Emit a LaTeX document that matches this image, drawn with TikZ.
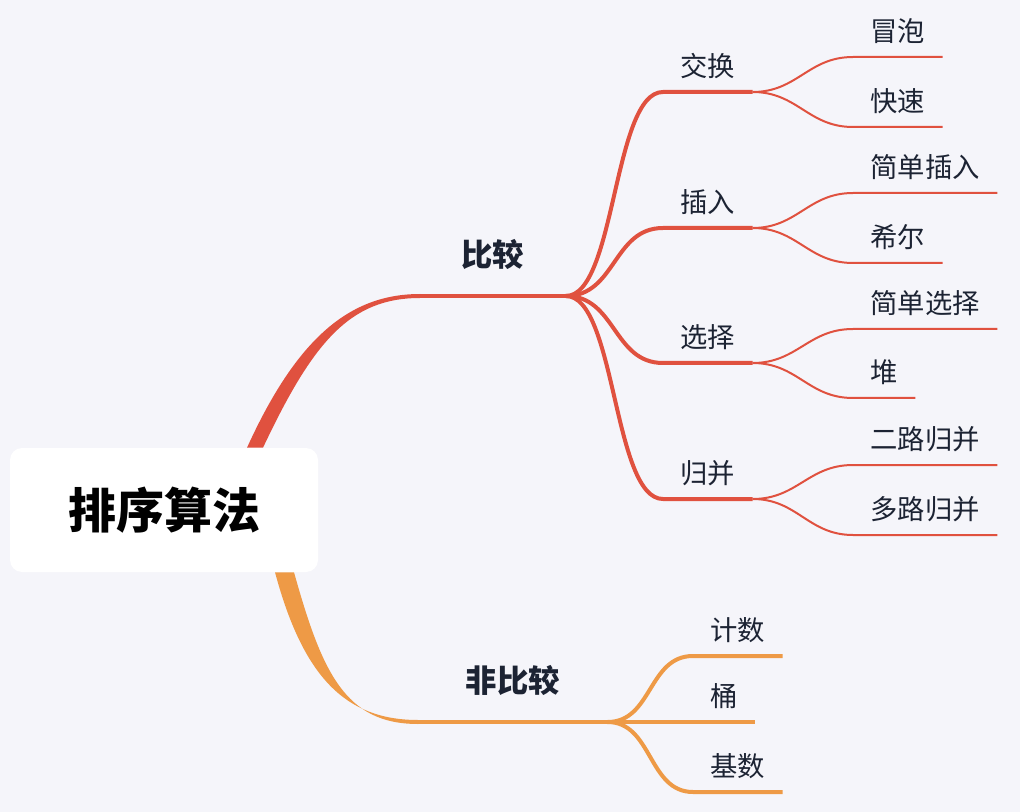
\documentclass[tikz,border=0pt]{standalone}
\usepackage{fontspec}
\setmainfont{Noto Sans CJK SC}
\usetikzlibrary{calc}
\definecolor{Paper}{HTML}{F5F5FA}
\definecolor{Red}{HTML}{E0513F}
\definecolor{Orange}{HTML}{EE9A46}
\definecolor{Ink}{HTML}{1C2333}
\tikzset{
  rootbox/.style={rounded corners=9pt, fill=white, minimum width=231pt, minimum height=93pt, font=\fontsize{36}{40}\selectfont\bfseries, text=black},
  topic/.style={inner xsep=31pt, inner ysep=20.5pt, text height=.85em, text depth=.15em, font=\fontsize{23.5}{27}\selectfont\bfseries, text=Ink},
  leaf/.style={inner xsep=12.9pt, inner ysep=10pt, text height=.85em, text depth=.15em, font=\fontsize{20.5}{24}\selectfont, text=Ink},
  redline/.style={draw=Red, line width=3pt},
  redthin/.style={draw=Red, line width=1.5pt},
  orangeline/.style={draw=Orange, line width=3pt}
}
\begin{document}
\begin{tikzpicture}[x=.75pt,y=-.75pt]
\fill[Paper] (0,0) rectangle (1020,812);
\node[rootbox] (root) at (164,510) {排序算法};
% comparison side
\node[topic, anchor=south west] (cmp) at (420,296) {比较};
\fill[Red] ($(root.north)+(83,0)$) .. controls +(50,-110) and +(-70,0) .. ($(cmp.south west)+(0,-2)$)
  -- ($(cmp.south west)+(0,2)$) .. controls +(-70,0) and +(50,-106) .. ($(root.north)+(99,0)$) -- cycle;
\draw[redline] (cmp.south west) -- (cmp.south east);
\foreach \n/\y/\t in {xch/92/交换, ins/228/插入, sel/363/选择, mrg/499/归并}{
  \node[leaf, anchor=south west] (\n) at (663,\y) {\t};
  \draw[redline] (cmp.south east) .. controls +(50,0) and +(-50,0) .. (\n.south west) -- (\n.south east);
}
\foreach \p/\n/\y/\t in {xch/bub/57/冒泡, xch/qck/127/快速, ins/sin/193/简单插入, ins/shl/263/希尔,
  sel/ssl/329/简单选择, sel/hp/398/堆, mrg/two/465/二路归并, mrg/mul/535/多路归并}{
  \node[leaf, anchor=south west] (\n) at (853,\y) {\t};
  \draw[redthin] (\p.south east) .. controls +(45,0) and +(-45,0) .. (\n.south west) -- (\n.south east);
}
% non-comparison side
\node[topic, inner xsep=35.6pt, anchor=south west] (ncmp) at (418,722) {非比较};
\fill[Orange] ($(root.south)+(111,0)$) .. controls +(28,104) and +(-73,0) .. ($(ncmp.south west)+(0,-2)$)
  -- ($(ncmp.south west)+(0,2)$) .. controls +(-73,0) and +(28,100) .. ($(root.south)+(130,0)$) -- cycle;
\draw[orangeline] (ncmp.south west) -- (ncmp.south east);
\foreach \n/\y/\t in {cnt/656/计数, bkt/722/桶, rdx/792/基数}{
  \node[leaf, anchor=south west] (\n) at (693,\y) {\t};
  \draw[orangeline] (ncmp.south east) .. controls +(45,0) and +(-45,0) .. (\n.south west) -- (\n.south east);
}
\end{tikzpicture}
\end{document}
